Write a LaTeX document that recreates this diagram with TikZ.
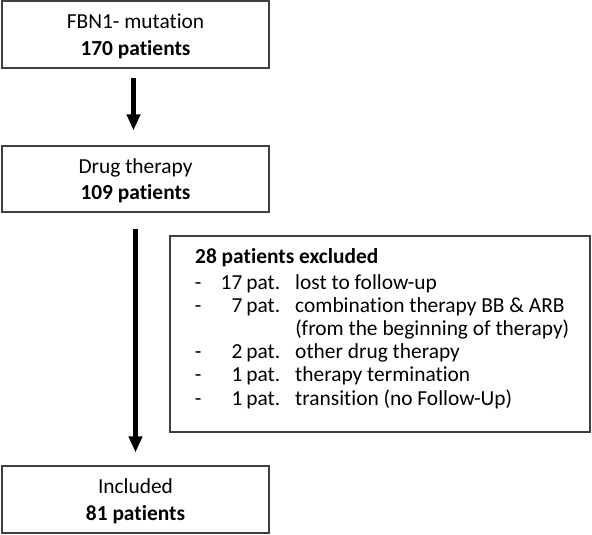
\documentclass[tikz,border=0pt]{standalone}
\usepackage{fontspec}
\setmainfont{Carlito}[Ligatures=NoCommon]
\usetikzlibrary{arrows.meta}
\tikzset{
  flowbox/.style={draw=black!75, line width=1.2pt, minimum width=267pt, inner sep=0pt,
    align=center, text depth=0pt, font=\fontsize{21.4}{26.5}\selectfont},
  flowarrow/.style={line width=4.5pt, -{Triangle[width=13pt,length=16pt]}}
}
\begin{document}
\begin{tikzpicture}[x=1pt,y=-1pt]
                \useasboundingbox (0,0) rectangle (592,535);
                \node[flowbox, minimum height=67pt] (fbn) at (135.5,34.5) {FBN1- mutation\\\textbf{170 patients}};
                \node[flowbox, minimum height=66pt] (drug) at (135.5,179) {Drug therapy\\\textbf{109 patients}};
                \node[flowbox, minimum height=67pt] (incl) at (135.5,499.5) {Included\\\textbf{81 patients}};
                \node[draw=black!75, line width=1.2pt, minimum width=420pt, minimum height=196pt, inner sep=0pt] (excl) at (380,334) {};
                \node[anchor=base west, inner sep=0pt, font=\fontsize{21.4}{23.2}\selectfont] (exlist) at (195,263)
                  {\begin{tabular}[t]{@{}l@{\hspace{19.5pt}}r@{\hspace{4pt}}l@{\hspace{15pt}}l@{}}
                   \multicolumn{4}{@{}l@{}}{\textbf{28 patients excluded}}\\[2.8pt]
                   \makebox[6pt]{-} & 17 & pat. & lost to follow-up\\
                   \makebox[6pt]{-} & 7 & pat. & combination therapy BB \& ARB\\
                   & & & (from the beginning of therapy)\\
                   \makebox[6pt]{-} & 2 & pat. & other drug therapy\\
                   \makebox[6pt]{-} & 1 & pat. & therapy termination\\
                   \makebox[6pt]{-} & 1 & pat. & transition (no Follow-Up)
                   \end{tabular}};
                \draw[flowarrow, shorten <=9pt, shorten >=15pt] ([xshift=-2pt]fbn.south) -- ([xshift=-2pt]drug.north);
                \draw[flowarrow, shorten <=16pt, shorten >=13pt] (drug.south) -- (incl.north);
\end{tikzpicture}
\end{document}
